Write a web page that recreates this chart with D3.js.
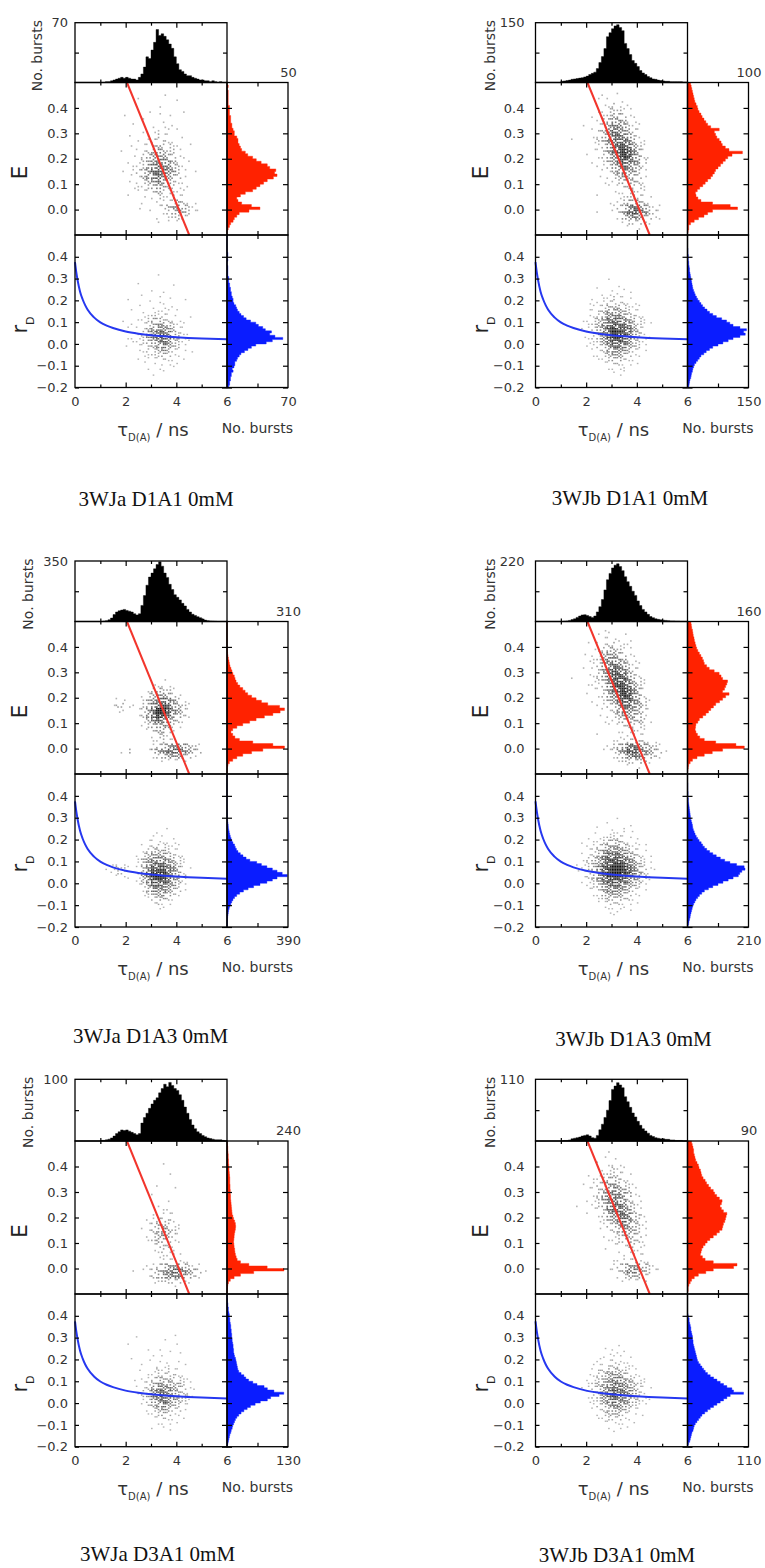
<!DOCTYPE html>
<html>
<head>
<meta charset="utf-8">
<script src="https://cdn.jsdelivr.net/npm/d3@7"></script>
<style>
  body { margin: 0; background: #fff; }
  svg { display: block; }
</style>
</head>
<body>
<svg id="chart" width="765" height="1568"></svg>
<script>
// ---- data ----------------------------------------------------------
var captions = ["3WJa D1A1 0mM", "3WJb D1A1 0mM", "3WJa D1A3 0mM", "3WJb D1A3 0mM", "3WJa D3A1 0mM", "3WJb D3A1 0mM"];

// axis maxima of the marginal histograms (No. bursts)
var tauHistMax = [70, 150, 350, 220, 100, 110];
var eHistMax   = [50, 100, 310, 160, 240, 90];
var rHistMax   = [70, 150, 390, 210, 130, 110];

var eTicks = [0, 0.1, 0.2, 0.3, 0.4];
var rTicks = [-0.2, -0.1, 0, 0.1, 0.2, 0.3, 0.4];
var tauLabelTicks = [0, 2, 4, 6];

// tau histograms: bins of 0.1 ns starting at 1.0 ns
var tauBinStart = 1.0, tauBinWidth = 0.1;
var tauCounts_a1 = [0,0,1,1,2,3,4,5,6,5, 6,5,4,4,3,6,10,18,30,28, 38,47,62,55,57,54,50,45,40,30, 22,15,13,10,8,8,6,5,4,3, 3,2,2,1,2,1,0,1,0,0];
var tauCounts_b1 = [3,4,5,6,8,9,10,11,12,14, 16,20,23,26,35,50,65,85,115,125, 135,142,145,138,130,98,85,70,55,48, 40,30,24,20,15,12,9,8,6,5, 4,3,3,2,2,2,2,2,1,1];
var tauCounts_a3 = [0,2,5,10,20,40,55,62,66,70, 64,60,55,45,38,45,93,150,210,257, 280,305,330,345,320,280,255,215,185,155, 140,125,105,90,70,55,42,35,28,22, 15,8,5,3,2,1,0,0,0,0];
var tauCounts_b3 = [0,1,2,4,7,10,15,20,24,25, 22,18,15,20,35,54,80,115,152,175, 195,205,210,200,185,163,145,128,110,95, 75,58,44,35,26,18,14,10,8,6, 5,4,3,2,2,1,1,0,0,0];
var tauCounts_a31 = [1,1,2,3,5,8,12,15,18,17, 18,16,14,12,10,12,29,38,45,53, 60,66,70,78,85,92,88,95,90,85, 82,75,66,55,45,35,26,20,15,12, 9,7,5,4,3,2,2,2,1,0];
var tauCounts_b31 = [0,1,1,2,4,5,6,7,9,10, 11,9,6,5,10,20,30,42,55,72, 92,98,104,100,95,79,70,60,50,43, 35,28,22,18,14,10,8,6,5,4, 4,3,3,2,2,1,1,1,0,0];

// E histograms: bins of 0.01 starting at -0.10
var eBinStart = -0.1, eBinWidth = 0.01;
var eCounts_a1 = [0,0,1,2,3,5,6,8,10,18, 27,20,12,9,8,11,15,21,24,27, 30,33,38,41,39,40,35,33,28,24, 21,17,15,12,11,10,9,9,8,6, 6,5,4,4,3,3,3,2,2,2, 2,1,1,1,1,1,1,0,1,0];
var eCounts_b1 = [0,1,2,2,5,11,18,27,33,41, 82,70,41,22,17,14,13,16,20,25, 29,33,38,41,44,46,50,54,58,62, 66,73,90,68,62,57,55,52,48,46, 44,52,38,33,30,27,24,22,19,17, 16,14,12,11,10,9,8,7,6,5];
var eCounts_a3 = [0,1,2,5,12,29,50,80,125,182, 292,233,131,63,40,29,20,29,50,80, 115,148,190,233,270,292,267,207,175,148, 125,105,92,80,65,54,46,41,37,30, 25,20,15,12,10,7,5,3,2,1, 0,0,0,0,0,0,0,0,0,0];
var eCounts_b3 = [0,1,2,3,7,13,25,44,65,92, 149,127,74,44,32,26,22,20,21,22, 27,31,40,48,55,61,68,74,84,92, 100,109,92,97,100,103,105,92,88,83, 70,57,50,44,42,39,35,31,27,24, 22,20,18,17,15,14,13,11,10,9];
var eCounts_a31 = [0,1,2,3,6,13,28,53,105,224, 158,86,53,40,36,33,31,30,28,27, 26,27,28,29,31,33,34,33,30,26, 23,20,19,18,17,16,15,14,14,13, 13,12,12,11,11,11,10,9,8,8, 7,6,6,5,5,4,3,3,2,1];
var eCounts_b31 = [0,1,1,2,4,6,10,16,27,38, 68,73,38,26,22,19,20,21,23,26, 29,33,38,43,47,51,52,53,55,56, 57,58,53,50,48,50,51,47,43,40, 38,34,31,28,26,23,21,20,19,17, 16,14,12,11,10,9,9,8,7,6];

// r_D histograms: bins of 0.01 starting at -0.20
var rBinStart = -0.2, rBinWidth = 0.01;
var rCounts_a1 = [2,3,3,4,4,5,5,7,6,8, 9,9,11,12,14,16,20,24,28,33, 45,52,64,55,49,51,44,41,36,33, 27,22,19,16,14,12,11,10,8,7, 7,6,5,5,4,4,3,3,2,2, 2,1,1,1,1,1,0,0,1,0, 1,1,0,0,0,0,0,0,0,0];
var rCounts_b1 = [3,4,5,6,8,9,10,12,13,15, 17,21,25,29,33,40,46,54,62,75, 87,100,112,129,142,138,145,129,112,104, 96,84,71,62,54,48,42,37,33,29, 25,22,19,17,15,13,12,11,10,9, 8,7,6,5,5,4,3,3,2,2, 2,1,1,1,0,0,0,0,0,0];
var rCounts_a3 = [1,2,2,3,4,6,8,10,14,18, 24,30,38,48,62,81,105,135,170,211, 255,290,320,385,353,320,290,255,220,190, 146,122,102,85,70,60,53,48,38,31, 26,21,17,14,11,9,8,6,4,3, 2,2,1,1,0,0,0,0,0,0, 0,0,0,0,0,0,0,0,0,0];
var rCounts_b3 = [2,4,5,7,9,10,12,14,16,18, 21,25,29,35,41,49,58,72,87,105, 122,140,157,175,180,187,198,195,169,146, 128,113,99,87,76,66,58,52,47,40, 35,30,26,23,20,18,17,15,13,11, 10,9,8,7,6,5,4,3,3,2, 2,2,1,1,1,1,0,0,0,0];
var rCounts_a31 = [1,2,3,4,5,6,8,9,11,12, 14,16,18,21,25,30,36,43,50,60, 71,86,93,111,121,100,86,79,64,55, 46,40,36,30,25,23,22,21,20,19, 18,16,15,14,14,13,13,12,11,11, 10,10,9,9,8,8,7,6,6,5, 5,4,3,3,2,2,1,1,0,0];
var rCounts_b31 = [1,2,4,5,6,7,8,10,11,12, 14,17,20,23,26,31,36,41,47,53, 59,65,71,77,101,83,80,71,65,59, 53,47,41,36,32,29,26,23,20,18, 17,16,15,14,13,12,11,10,10,9, 9,8,7,6,6,5,4,3,3,2, 1,0,0,0,0,0,0,0,0,0];

// 2D burst densities (level 0-9), columns: tau cells of 0.2 ns from 1.0 ns
var gridTauStart = 1.0, gridTauStep = 0.2;
// E grid rows: top edge 0.48, 0.02 per row
var gridETop = 0.48, gridEStep = 0.02;
var densityE_a1 = [
"00000000000000000000000","00000000000010000000000","00000001000000010000000","00000000000100000000000",
"00000000010000001000000","00001000000101000000000","00000000100010000000000","00000010001010100000000",
"00000000101101010000000","00000100010211001000000","00000001012121100000000","00000010112322110100000",
"00001001123432210000000","00000010234443211000000","00000101234554310100000","00000011245655321000000",
"00001012346665421010000","00000011345654321000000","00000101234543211000000","00000011123432210100000",
"00000001112322111000000","00000100101211211000000","00000000100111232110000","00000001000123443210000",
"00000000010012343211000","00000000000101222100000","00000000000101010000000","00000000000000000000000"];
var densityE_b1 = [
"00000000000000000000000","00000000100100000000000","00000001010010000000000","00000000112101000000000",
"00000001122211000000000","00000010123321100000000","00000001234431100000000","00001001245542110000000",
"00000012356543210000000","00000011346654210000000","00100012356665311000000","00000001246776421000000",
"00000011246787531000000","00000101235787531100000","00000010134676542000000","00000001124565431000000",
"00000000113454421000000","00000001012343321000000","00000000101233321000000","00000000010122221000000",
"00000000001112211000000","00000001000112221100000","00000000010123332100000","00000000001235654211000",
"00000001001246765321000","00000000000134543211000","00000000000012221100000","00000000000001010000000"];
var densityE_a3 = [
"00000000000000000000000","00000000000000000000000","00000000000000000000000","00000000000000000000000",
"00000000000000000000000","00000000000000000000000","00000000000000000000000","00000000000000000000000",
"00000000000000000000000","00000000000000000000000","00000000000010000000000","00000000001111000000000",
"00000000012322100000000","00000000123443210000000","00011000134565421000000","00122110235676432100000",
"00011001246997542100000","00000001246886432100000","00000000135654321000000","00000000123443210000000",
"00000000012332100000000","00000000001221000000000","00000000001121100000000","00000000001234554321000",
"00001200013456665432000","00000000001234443210000","00000000000011111000000","00000000000000000000000"];
var densityE_b3 = [
"00000000100000000000000","00000001010010000000000","00000000111101000000000","00000101122111000000000",
"00000011233211000000000","00001011344321100000000","00000112455431100000000","00000012456542110000000",
"00001012467653210000000","00000112467764210000000","00100012357775321000000","00000111257876421000000",
"00000011246787531000000","00000101245787531000000","00000010134677542100000","00000001123566542000000",
"00000000112455432100000","00000001012344431000000","00000000101233332100000","00000000010122221000000",
"00000000000111211000000","00000001000101111000000","00000000001112222110000","00000000012346654321000",
"00000000112457765432100","00000000001235654321000","00000000000122232100000","00000000000001010000000"];
var densityE_a31 = [
"00000000000000000000000","00000000000000000000000","00000000000000000000000","00000000000010000000000",
"00000000000000000000000","00000000000001000000000","00000000000000000000000","00000000000100000000000",
"00000000000000100000000","00000000001000000000000","00000000000001000000000","00000000000100000000000",
"00000000000011000000000","00000000001111100000000","00000000011222100000000","00000000012332110000000",
"00000000112343210000000","00000000012343210000000","00000000012332110000000","00000000001222100000000",
"00000000001121100000000","00000000000111110000000","00000000000011111100000","00000000011234443211000",
"00000010112345665432100","00000000012345554321000","00000000001122221100000","00000000000000100000000"];
var densityE_b31 = [
"00000000000000000000000","00000000010000000000000","00000000101000000000000","00000001011100000000000",
"00000000112110000000000","00000101122211000000000","00000011233211000000000","00001012344321100000000",
"00000112345432100000000","00000012455543110000000","00000112456542110000000","00010012356653210000000",
"00000011256654210000000","00000101245665321000000","00000001134565321000000","00000000123454321000000",
"00000001012344321000000","00000000101233321000000","00000000011223221000000","00000000001112211000000",
"00000000100101110000000","00000000000010111000000","00000000001111211100000","00000000001234443210000",
"00000000011235543211000","00000000000123332100000","00000000000011111000000","00000000000000000000000"];

// r_D grid rows: top edge 0.32, 0.02 per row
var gridRTop = 0.32, gridRStep = 0.02;
var densityR_a1 = [
"00000000000100000000000","00000000000000000000000","00000001000000100000000","00000000001000000000000",
"00000000100010000000000","00000100000101001000000","00000000010110000000000","00000001001010100000000",
"00000010101111010000000","00000000112121100100000","00001001123322110000000","00000010123443211000000",
"00000101134554311000000","00000011245665321100000","00000111245676431000000","00000011234565321100000",
"00000101123454321000000","00000001122343211010000","00000000112232110000000","00000001011121101000000",
"00000000101011010000000","00000000010100100000000","00000000000010000000000","00000000001000000000000"];
var densityR_b1 = [
"00000000000000000000000","00000000010000000000000","00000000000100000000000","00000001001010000000000",
"00000000110101000000000","00000010112111000000000","00000101122121100000000","00000011233321110000000",
"00000112344432110000000","00000112355543211000000","00001123466654321000000","00000123567665321100000",
"00001124578776421000000","00000124679876431000000","00001123578876421100000","00000112467765321000000",
"00000112356654321000000","00000011245543211000000","00000011234432110000000","00000001123321100000000",
"00000000112211010000000","00000000011110000000000","00000000001010000000000","00000000000100000000000"];
var densityR_a3 = [
"00000000000000000000000","00000000000000000000000","00000000000000000000000","00000000000001000000000",
"00000000000100000000000","00000000001010100000000","00000000011111100000000","00000000112221110000000",
"00000000123332110000000","00000001234443211000000","00000001345554321000000","00111001356665421000000",
"01122101357776531100000","00122101468886531000000","00011101468997542000000","00000001357776431000000",
"00000001246665421000000","00000000135554321000000","00000000123443210000000","00000000012332100000000",
"00000000001211000000000","00000000000110000000000","00000000000000000000000","00000000000000000000000"];
var densityR_b3 = [
"00000000000000000000000","00000000000100000000000","00000000010001000000000","00000001001010000000000",
"00000010011110100000000","00000101122211010000000","00001011233321100000000","00000112344432111000000",
"00000123455543211000000","00001123566654321100000","00001234677765421000000","00011234678876532100000",
"00001235789987532110000","00011235789987642100000","00001235688886532100000","00001124677765431100000",
"00000123566654321000000","00000112455543211000000","00000011344432110000000","00000001233322100000000",
"00000001122211010000000","00000000111110000000000","00000000010101000000000","00000000001000000000000"];
var densityR_a31 = [
"00000001000000100000000","00000000000010000000000","00000100000000010000000","00000000010100000000000",
"00000000000001010000000","00000010001010000000000","00000000010101010000000","00000000100111001000000",
"00000001001212110000000","00000000011222211000000","00000010112333221100000","00000000123444332100000",
"00000001124555432110000","00000001235665432100000","00000000235676543210000","00000000124565432100000",
"00000000123454321100000","00000000012343221000000","00000000011232110000000","00000000001121101000000",
"00000000000111010000000","00000000001010000000000","00000000000001000000000","00000000000000000000000"];
var densityR_b31 = [
"00000000000000000000000","00000000000000000000000","00000000000100000000000","00000000101000000000000",
"00000000010110000000000","00000001101101000000000","00000001012111000000000","00000011122211100000000",
"00000012233321100000000","00000112344432110000000","00000112345543211000000","00000123456554321000000",
"00001123456654321100000","00000123567665421000000","00000123567665321000000","00000112456554321100000",
"00000012345543211000000","00000011234432110000000","00000001233321101000000","00000001122211000000000",
"00000000111110100000000","00000000010101000000000","00000000001000000000000","00000000000000000000000"];

// static FRET line (E vs tau) and Perrin curve (r_D vs tau)
var fretLine = [[2.05, 0.5], [4.51, -0.1]];
var perrinCurve = [[0,0.375],[0.05,0.33],[0.1,0.294],[0.2,0.24],[0.3,0.205],[0.4,0.178],[0.5,0.157],
  [0.75,0.122],[1,0.099],[1.25,0.084],[1.5,0.073],[2,0.057],[2.5,0.047],[3,0.04],[3.5,0.035],[4,0.031],[5,0.025],[6,0.021]];

// ---- layout --------------------------------------------------------
var plotW = 152, histW = 61;
var cols = [
  { x0: 75,    gap: 7 },
  { x0: 535.5, gap: 11 }
];
var rows = [
  { hTop: 22.7,   eTop: 82.5,  eBot: 235,  rBot: 387.5 },
  { hTop: 561,    eTop: 621.5, eBot: 774,  rBot: 927 },
  { hTop: 1079.3, eTop: 1141,  eBot: 1294, rBot: 1446.7 }
];
// distance of the rotated "No. bursts" baseline left of the plot
var countTitleOff = [33, 40.5, 42, 40.5, 42, 40.5];
var captionPos = [[156, 506], [630, 505], [150.5, 1043], [633.5, 1046], [157.5, 1561], [617, 1562]];

var panels = [
  { tau: tauCounts_a1,  e: eCounts_a1,  r: rCounts_a1,  gE: densityE_a1,  gR: densityR_a1 },
  { tau: tauCounts_b1,  e: eCounts_b1,  r: rCounts_b1,  gE: densityE_b1,  gR: densityR_b1 },
  { tau: tauCounts_a3,  e: eCounts_a3,  r: rCounts_a3,  gE: densityE_a3,  gR: densityR_a3 },
  { tau: tauCounts_b3,  e: eCounts_b3,  r: rCounts_b3,  gE: densityE_b3,  gR: densityR_b3 },
  { tau: tauCounts_a31, e: eCounts_a31, r: rCounts_a31, gE: densityE_a31, gR: densityR_a31 },
  { tau: tauCounts_b31, e: eCounts_b31, r: rCounts_b31, gE: densityE_b31, gR: densityR_b31 }
];
panels.forEach(function(p, i) {
  p.caption = captions[i];
  p.row = Math.floor(i / 2);
  p.col = i % 2;
  p.tauMax = tauHistMax[i];
  p.eMax = eHistMax[i];
  p.rMax = rHistMax[i];
  p.cap = captionPos[i];
  p.titleOff = countTitleOff[i];
});

var sans = "'DejaVu Sans', sans-serif";
var svg = d3.select("#chart");
var fillOrder = [4, 0, 8, 2, 6, 1, 7, 3, 5];
var shade = d3.scaleLinear().domain([1, 9]).range(["#b4b4b4", "#101010"]);

// speckled 2D histogram, each cell split in 3x3 sub dots
function density(g, grid, x, y, top, step) {
  var dots = [];
  grid.forEach(function(row, i) {
    for (var j = 0; j < row.length; j++) {
      var lvl = +row[j];
      if (!lvl) continue;
      var xa = x(gridTauStart + j * gridTauStep), xb = x(gridTauStart + (j + 1) * gridTauStep);
      var ya = y(top - i * step), yb = y(top - (i + 1) * step);
      var w = (xb - xa) / 3, h = (yb - ya) / 3;
      var shift = (i * 5 + j * 7) % 9;
      for (var k = 0; k < lvl; k++) {
        var s = fillOrder[(k + shift) % 9];
        dots.push({ x: xa + (s % 3) * w, y: ya + Math.floor(s / 3) * h, w: w, h: h, c: shade(lvl) });
      }
    }
  });
  g.append("g").selectAll("rect").data(dots).join("rect")
    .attr("x", function(d) { return d.x; })
    .attr("y", function(d) { return d.y; })
    .attr("width", function(d) { return d.w * 0.95; })
    .attr("height", function(d) { return d.h * 0.95; })
    .attr("fill", function(d) { return d.c; });
}

// step outline points of a histogram: [position, count]
function steps(counts, start, width) {
  var pts = [];
  counts.forEach(function(v, i) {
    pts.push([start + i * width, v], [start + (i + 1) * width, v]);
  });
  return pts;
}

function drawPanel(p) {
  var c = cols[p.col], rw = rows[p.row];
  var x0 = c.x0, x6 = x0 + plotW, xr = x6 + histW;

  var x  = d3.scaleLinear().domain([0, 6]).range([x0, x6]);
  var yE = d3.scaleLinear().domain([-0.1, 0.5]).range([rw.eBot, rw.eTop]);
  var yR = d3.scaleLinear().domain([-0.2, 0.5]).range([rw.rBot, rw.eBot]);
  var yT = d3.scaleLinear().domain([0, p.tauMax]).range([rw.eTop, rw.hTop]);
  var xE = d3.scaleLinear().domain([0, p.eMax]).range([x6, xr]);
  var xR = d3.scaleLinear().domain([0, p.rMax]).range([x6, xr]);

  var g = svg.append("g");

  density(g, p.gE, x, yE, gridETop, gridEStep);
  density(g, p.gR, x, yR, gridRTop, gridRStep);

  // model lines
  g.append("path").datum(fretLine)
    .attr("d", d3.line().x(function(d) { return x(d[0]); }).y(function(d) { return yE(d[1]); }))
    .attr("fill", "none").attr("stroke", "#f2352c").attr("stroke-width", 2);
  g.append("path").datum(perrinCurve)
    .attr("d", d3.line().curve(d3.curveMonotoneX).x(function(d) { return x(d[0]); }).y(function(d) { return yR(d[1]); }))
    .attr("fill", "none").attr("stroke", "#2638f0").attr("stroke-width", 2);

  // tau histogram (top)
  g.append("path").datum(steps(p.tau, tauBinStart, tauBinWidth))
    .attr("d", d3.area().x(function(d) { return x(d[0]); }).y0(yT(0)).y1(function(d) { return yT(d[1]); }))
    .attr("fill", "#000").attr("stroke", "#000").attr("stroke-width", 0.4);

  // E histogram (right, red)
  g.append("path").datum(steps(p.e, eBinStart, eBinWidth))
    .attr("d", d3.area().y(function(d) { return yE(d[0]); }).x0(x6).x1(function(d) { return xE(d[1]); }))
    .attr("fill", "#ff2200").attr("stroke", "#ff2200").attr("stroke-width", 0.4);

  // r_D histogram (right, blue)
  g.append("path").datum(steps(p.r, rBinStart, rBinWidth))
    .attr("d", d3.area().y(function(d) { return yR(d[0]); }).x0(x6).x1(function(d) { return xR(d[1]); }))
    .attr("fill", "#0a1cff").attr("stroke", "#0a1cff").attr("stroke-width", 0.4);

  // frames
  var boxes = [
    [x0, rw.hTop, x6, rw.eTop], [x0, rw.eTop, x6, rw.eBot], [x0, rw.eBot, x6, rw.rBot],
    [x6, rw.eTop, xr, rw.eBot], [x6, rw.eBot, xr, rw.rBot]
  ];
  g.append("g").selectAll("rect").data(boxes).join("rect")
    .attr("x", function(d) { return d[0]; }).attr("y", function(d) { return d[1]; })
    .attr("width", function(d) { return d[2] - d[0]; }).attr("height", function(d) { return d[3] - d[1]; })
    .attr("fill", "none").attr("stroke", "#000").attr("stroke-width", 1.3);

  function ax(gen, tx, ty) {
    var a = g.append("g").attr("transform", "translate(" + tx + "," + ty + ")").call(gen);
    a.select(".domain").remove();
    a.attr("font-family", sans).attr("font-size", 13);
    a.selectAll("line").attr("stroke", "#000").attr("stroke-width", 1.2);
    a.selectAll("text").attr("fill", "#333");
    return a;
  }
  var none = function() { return ""; };

  // horizontal edges: tau ticks, both sides where the boxes meet
  [[rw.hTop, false, true], [rw.eTop, true, true], [rw.eBot, true, true], [rw.rBot, true, false]].forEach(function(e) {
    if (e[1]) {
      ax(d3.axisTop(x).tickValues([2, 4]).tickSize(5).tickFormat(none), 0, e[0]);
      ax(d3.axisTop(x).tickValues([1, 3, 5]).tickSize(3).tickFormat(none), 0, e[0]);
    }
    if (e[2]) {
      ax(d3.axisBottom(x).tickValues([2, 4]).tickSize(5).tickFormat(none), 0, e[0]);
      ax(d3.axisBottom(x).tickValues([1, 3, 5]).tickSize(3).tickFormat(none), 0, e[0]);
    }
  });
  ax(d3.axisBottom(x).tickValues(tauLabelTicks).tickSize(0).tickPadding(9).tickFormat(d3.format("d")), 0, rw.rBot);

  // top histogram count axis
  ax(d3.axisLeft(yT).tickValues([p.tauMax / 2]).tickSize(-4).tickFormat(none), x0, 0);
  ax(d3.axisLeft(yT).tickValues([p.tauMax]).tickSize(0).tickPadding(c.gap).tickFormat(d3.format("d")), x0, 0);
  ax(d3.axisRight(yT).tickValues([p.tauMax / 2]).tickSize(-4).tickFormat(none), x6, 0);

  // E and r_D axes
  ax(d3.axisLeft(yE).tickValues(eTicks).tickSize(-4).tickPadding(c.gap).tickFormat(d3.format(".1f")), x0, 0);
  ax(d3.axisLeft(yR).tickValues(rTicks).tickSize(-4).tickPadding(c.gap).tickFormat(d3.format(".1f")), x0, 0);
  [[yE, eTicks], [yR, rTicks]].forEach(function(s) {
    ax(d3.axisLeft(s[0]).tickValues(s[1]).tickSize(5).tickFormat(none), x6, 0);
    ax(d3.axisRight(s[0]).tickValues(s[1]).tickSize(5).tickFormat(none), x6, 0);
    ax(d3.axisRight(s[0]).tickValues(s[1]).tickSize(-5).tickFormat(none), xr, 0);
  });

  // marginal histogram count axes
  ax(d3.axisTop(xE).tickValues([p.eMax / 2]).tickSize(-4).tickFormat(none), 0, rw.eTop);
  ax(d3.axisTop(xE).tickValues([p.eMax]).tickSize(0).tickPadding(6).tickFormat(d3.format("d")), 0, rw.eTop);
  ax(d3.axisTop(xE).tickValues([p.eMax / 2]).tickSize(4).tickFormat(none), 0, rw.eBot);
  ax(d3.axisBottom(xE).tickValues([p.eMax / 2]).tickSize(4).tickFormat(none), 0, rw.eBot);
  ax(d3.axisBottom(xR).tickValues([p.rMax / 2]).tickSize(-4).tickFormat(none), 0, rw.rBot);
  ax(d3.axisBottom(xR).tickValues([p.rMax]).tickSize(0).tickPadding(9).tickFormat(d3.format("d")), 0, rw.rBot);

  // titles
  var t = g.append("g").attr("font-family", sans).attr("fill", "#333");
  t.append("text").attr("x", (x6 + xr) / 2).attr("y", rw.rBot + 45)
    .attr("text-anchor", "middle").attr("font-size", 14).text("No. bursts");
  t.append("text").attr("transform", "translate(" + (x0 - p.titleOff) + "," + (rw.hTop + 33) + ") rotate(-90)")
    .attr("text-anchor", "middle").attr("font-size", 14).text("No. bursts");

  var xt = t.append("text").attr("x", x0 + 78).attr("y", rw.rBot + 48)
    .attr("text-anchor", "middle").attr("font-size", 18);
  xt.append("tspan").text("τ");
  xt.append("tspan").attr("font-size", 10).attr("dy", 5).text("D(A)");
  xt.append("tspan").attr("dy", -5).text(" / ns");

  t.append("text").attr("transform", "translate(" + (x0 - 48) + "," + (rw.eTop + 90) + ") rotate(-90)")
    .attr("text-anchor", "middle").attr("font-size", 22).attr("fill", "#222").text("E");
  var rt = t.append("text").attr("transform", "translate(" + (x0 - 48) + "," + (rw.eBot + 90) + ") rotate(-90)")
    .attr("text-anchor", "middle").attr("font-size", 21).attr("fill", "#222");
  rt.append("tspan").text("r");
  rt.append("tspan").attr("font-size", 11).attr("dy", 7).text("D");

  // caption
  svg.append("text").attr("x", p.cap[0]).attr("y", p.cap[1])
    .attr("text-anchor", "middle")
    .attr("font-family", "'Liberation Serif', 'Times New Roman', serif")
    .attr("font-size", 21).attr("fill", "#111")
    .text(p.caption);
}

panels.forEach(drawPanel);
</script>
</body>
</html>
